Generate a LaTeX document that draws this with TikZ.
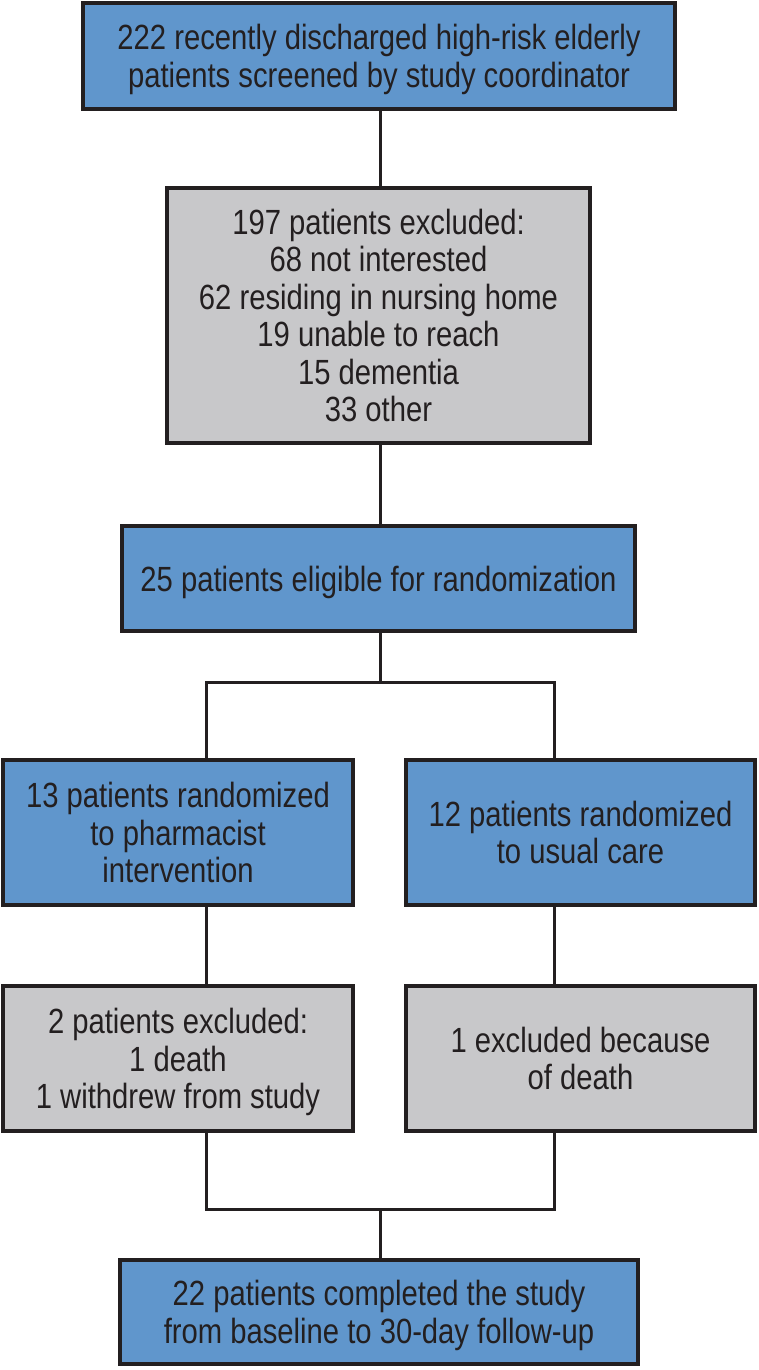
\documentclass[tikz,border=0pt]{standalone}
\usepackage{fontspec}
\setmainfont[FakeStretch=0.835]{Liberation Sans}
\definecolor{boxblue}{HTML}{6096CC}
\definecolor{boxgray}{HTML}{C8C8CA}
\definecolor{ink}{HTML}{231F20}
\begin{document}
\begin{tikzpicture}[x=1pt,y=-1pt,
  box/.style={draw=ink,line width=4pt,rectangle,inner sep=0pt,align=center,text=ink,
    text depth=0pt,font=\fontsize{35}{37.5}\selectfont},
  bluebox/.style={box,fill=boxblue},
  graybox/.style={box,fill=boxgray},
  conn/.style={draw=ink,line width=3pt}]
\useasboundingbox (0,0) rectangle (759,1370);
\node[bluebox,minimum width=592pt,minimum height=106pt] (b1) at (379,56)
  {222 recently discharged high-risk elderly\\patients screened by study coordinator};
\node[graybox,minimum width=423pt,minimum height=255pt] (b2) at (378.5,315.5)
  {197 patients excluded:\\68 not interested\\62 residing in nursing home\\19 unable to reach\\15 dementia\\33 other};
\node[bluebox,minimum width=513pt,minimum height=105pt] (b3) at (378.5,578.5)
  {25 patients eligible for randomization};
\node[bluebox,minimum width=350pt,minimum height=145pt] (b4) at (178,832.5)
  {13 patients randomized\\to pharmacist\\intervention};
\node[bluebox,minimum width=349pt,minimum height=145pt] (b5) at (580.5,832.5)
  {12 patients randomized\\to usual care};
\node[graybox,minimum width=350pt,minimum height=145pt] (b6) at (178,1058.5)
  {2 patients excluded:\\1 death\\1 withdrew from study};
\node[graybox,minimum width=349pt,minimum height=145pt] (b7) at (580.5,1058.5)
  {1 excluded because\\of death};
\node[bluebox,minimum width=518pt,minimum height=104pt] (b8) at (379,1312)
  {22 patients completed the study\\from baseline to 30-day follow-up};
\coordinate (jl) at (206,682);
\coordinate (jr) at (554,682);
\coordinate (ml) at (206,1209);
\coordinate (mr) at (554,1209);
\draw[conn] (b1.south -| 380,0) -- (b2.north -| 380,0);
\draw[conn] (b2.south -| 380,0) -- (b3.north -| 380,0);
\draw[conn] (b3.south -| 380,0) -- (jl -| 380,0);
\draw[conn,line cap=rect] (jl |- b4.north) -- (jl) -- (jr) -- (jr |- b5.north);
\draw[conn] (jl |- b4.south) -- (jl |- b6.north);
\draw[conn] (jr |- b5.south) -- (jr |- b7.north);
\draw[conn,line cap=rect] (ml |- b6.south) -- (ml) -- (mr) -- (mr |- b7.south);
\draw[conn] (ml -| 380,0) -- (b8.north -| 380,0);
\end{tikzpicture}
\end{document}
